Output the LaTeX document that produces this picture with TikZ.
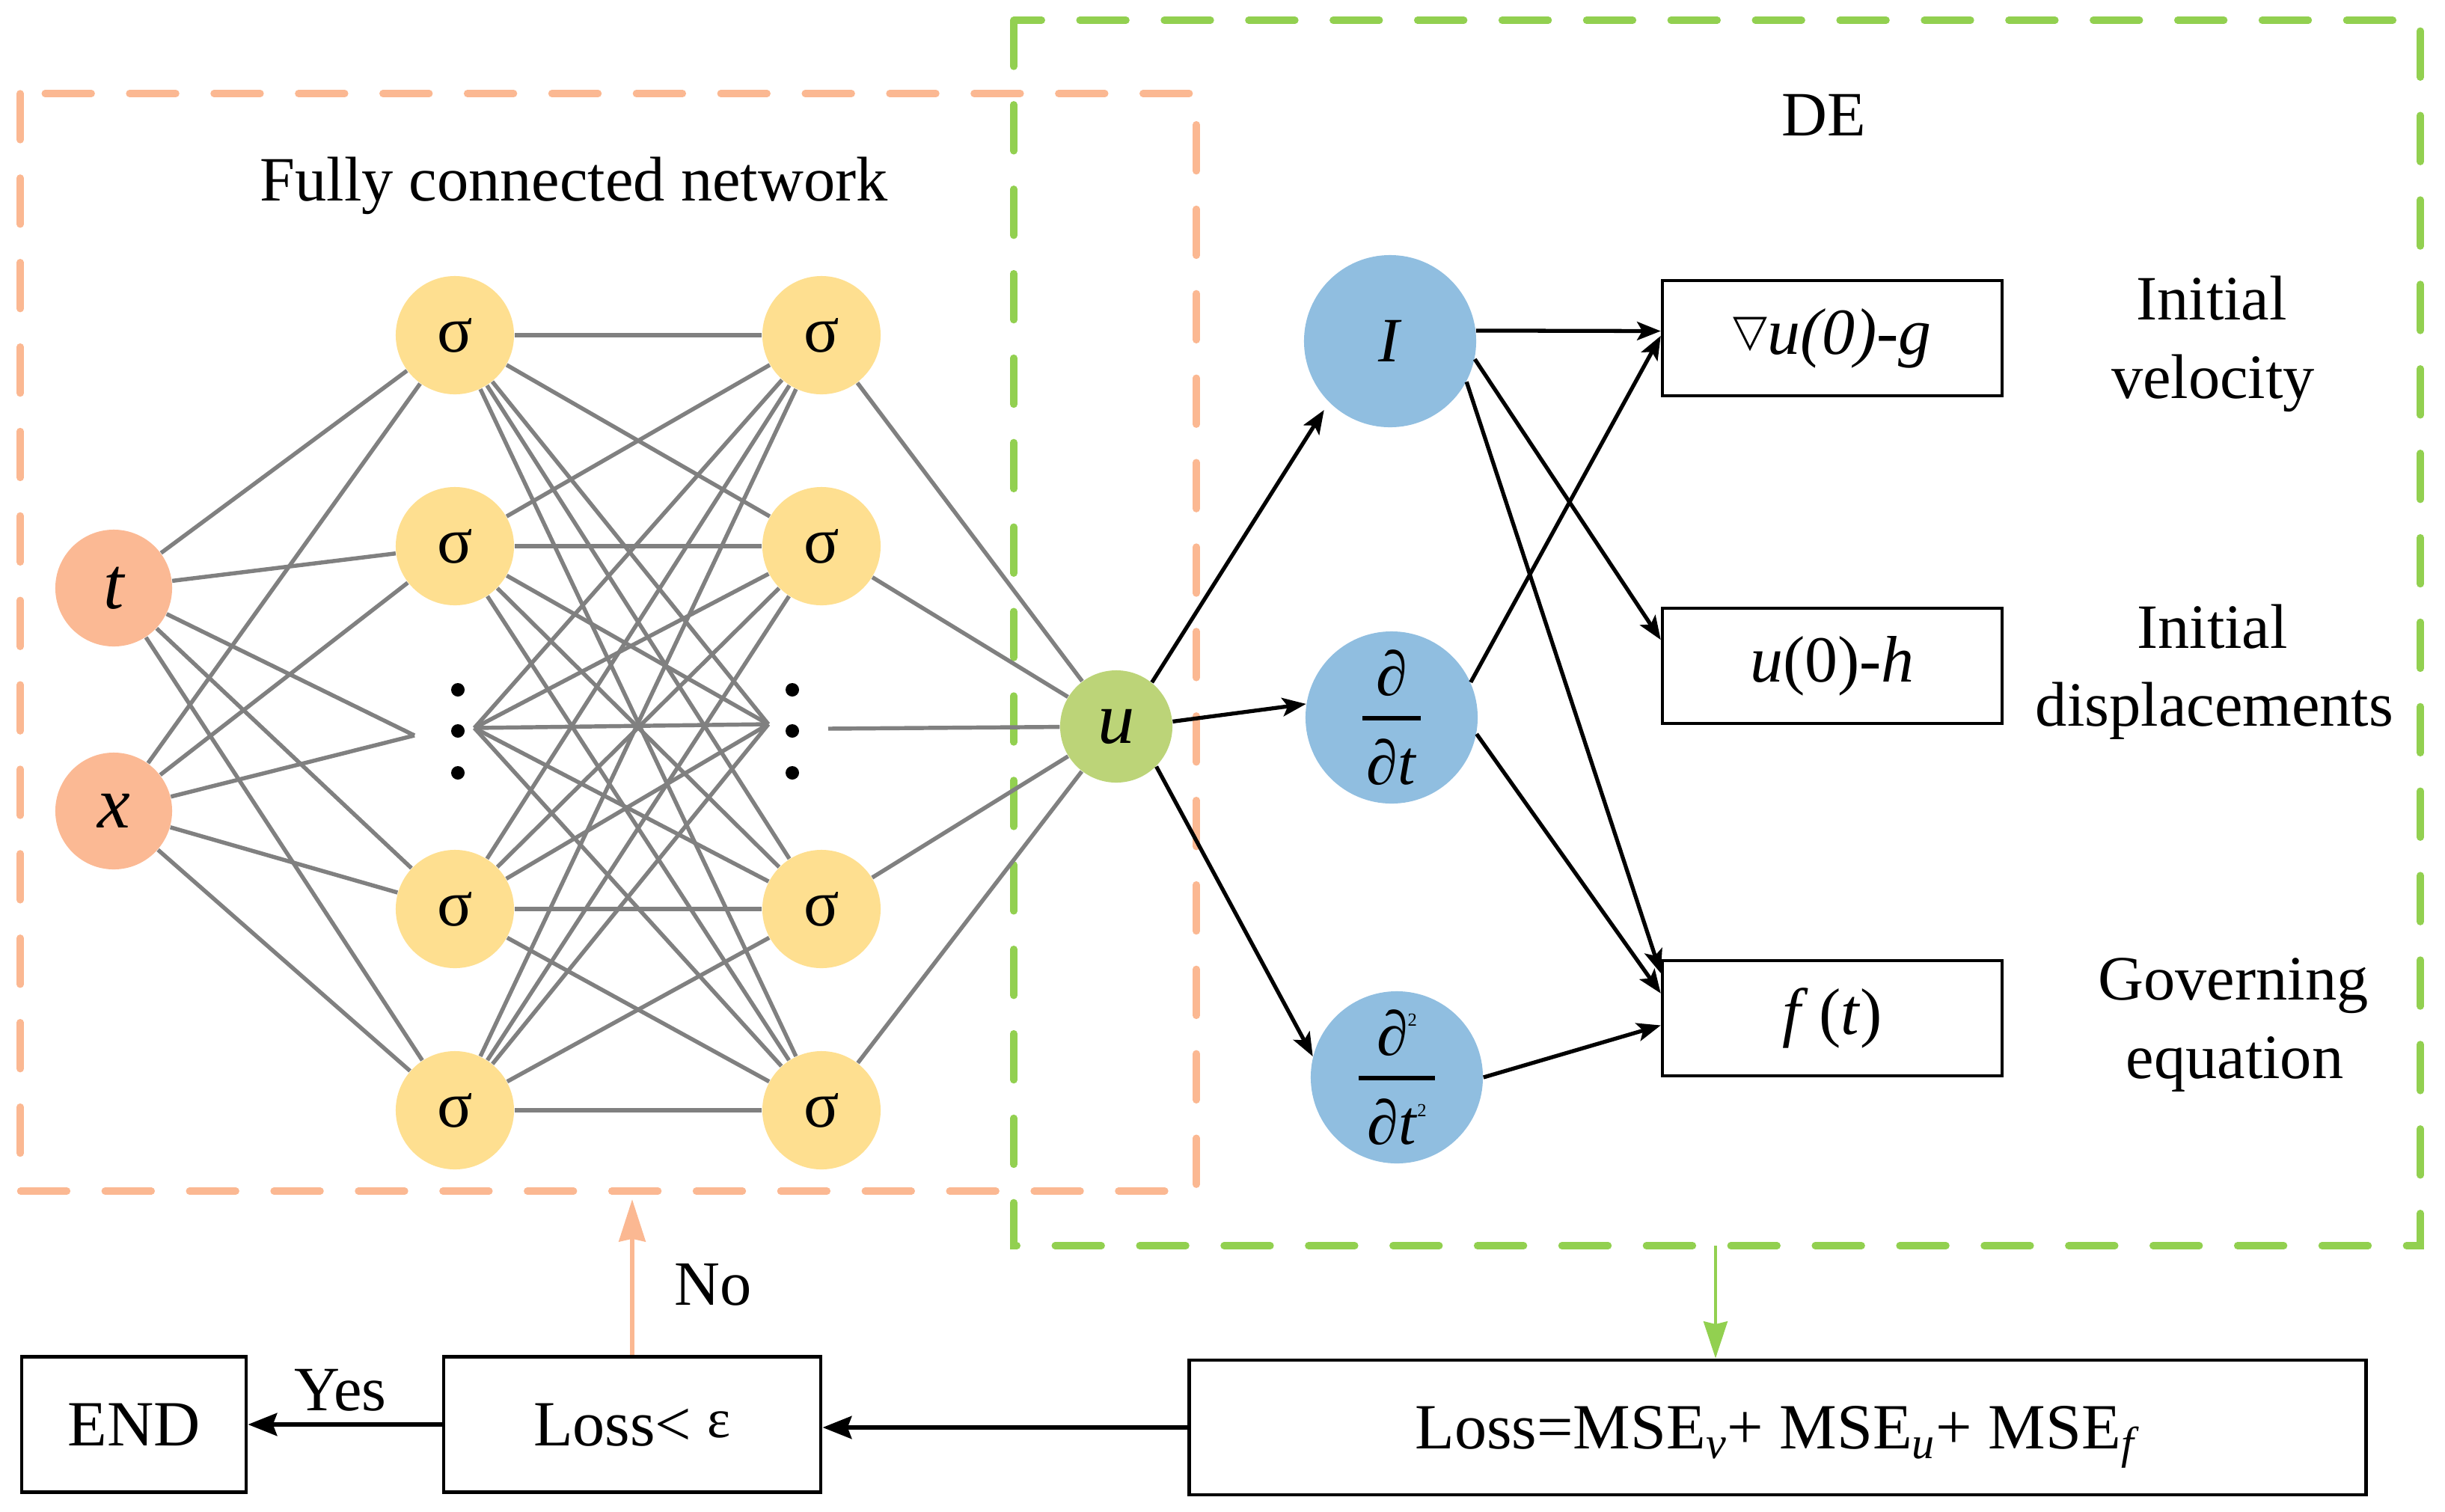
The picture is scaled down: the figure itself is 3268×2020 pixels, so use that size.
\documentclass[tikz,border=0pt]{standalone}
\usepackage{fontspec}
\setmainfont{Liberation Serif}
\newfontfamily\djv{DejaVu Sans}
\usetikzlibrary{arrows.meta,calc}
\definecolor{orn}{HTML}{FBB994}
\definecolor{ornd}{HTML}{FBB892}
\definecolor{yel}{HTML}{FEDF90}
\definecolor{grn}{HTML}{BCD478}
\definecolor{blu}{HTML}{90BEE0}
\definecolor{grd}{HTML}{92D050}
\definecolor{wgray}{RGB}{128,128,128}
\newcommand{\pfrac}[3]{\vbox{\hbox to #1{\hss#2\hss}\kern7.5pt\hrule height 1.6pt\kern7pt\hbox to #1{\hss#3\hss}}}
\newcommand{\sups}[1]{\raisebox{#1}{\fontsize{7}{7}\selectfont 2}}
\begin{document}
\begin{tikzpicture}[x=0.01cm,y=-0.01cm,
  neur/.style={circle,inner sep=0pt,minimum size=1.56cm},
  inp/.style={neur,fill=orn,font=\fontsize{28}{28}\selectfont\itshape},
  hid/.style={neur,fill=yel,minimum size=1.58cm,font=\fontsize{25}{25}\selectfont},
  outn/.style={neur,fill=grn,minimum size=1.5cm,font=\fontsize{28}{28}\selectfont\itshape},
  opn/.style={circle,fill=blu,inner sep=0pt,minimum size=2.3cm,font=\fontsize{24}{24}\selectfont},
  dotn/.style={circle,fill=black,inner sep=0pt,minimum size=0.18cm},
  wire/.style={draw=wgray,line width=1.55pt},
  arr/.style={draw=black,line width=1.5pt,-{Stealth[length=9pt,width=7pt,inset=2pt]}},
  barr/.style={draw=black,line width=1.9pt,-{Stealth[length=11pt,width=8.5pt,inset=1.5pt]}},
  oarr/.style={draw=ornd,line width=1.8pt,-{Stealth[length=16pt,width=10pt,inset=1pt]}},
  garr/.style={draw=grd,line width=1.4pt,-{Stealth[length=14pt,width=9pt,inset=1pt]}},
  tbox/.style={draw,line width=1.2pt,minimum width=4.54cm,minimum height=1.54cm,inner sep=0pt,font=\fontsize{25}{25}\selectfont},
  bbox/.style={draw,line width=1.3pt,minimum height=1.81cm,inner sep=0pt,font=\fontsize{24.5}{29}\selectfont,text depth=0pt},
  lbl/.style={inner sep=0pt,anchor=base,font=\fontsize{24}{29}\selectfont},
  odash/.style={draw=ornd,line width=2.7pt,line cap=round,dash pattern=on 17.6pt off 14.5pt},
  gdash/.style={draw=grd,line width=2.7pt,line cap=round,dash pattern=on 17.6pt off 14.5pt},
]
\useasboundingbox (0,0) rectangle (3268,2020);
% dashed frames
\draw[odash] (27,125) rectangle (1599,1592);
\draw[gdash] (1355,27) rectangle (3235,1665);
% network nodes
\node[inp] (t) at (152,786) {t};
\node[inp] (x) at (152,1084) {x};
\foreach \n/\y in {1/448,2/730,3/1215,4/1484} {
  \node[hid] (a\n) at (608,\y) {σ};
  \node[hid] (b\n) at (1098,\y) {σ};
}
\foreach \k/\y in {1/922,2/977,3/1033} {
  \node[dotn] (p\k) at (612,\y) {};
  \node[dotn] (q\k) at (1059,\y) {};
}
\coordinate (c1in) at (554,983);
\coordinate (c1out) at (634,973);
\coordinate (c2in) at (1027,968);
\coordinate (c2out) at (1107,974);
\node[outn] (u) at (1492,971) {u};
% wires
\foreach \s in {t,x} {\foreach \d in {a1,a2,a3,a4,c1in} {\draw[wire] (\s) -- (\d);}}
\foreach \s in {a1,a2,a3,a4,c1out} {\foreach \d in {b1,b2,b3,b4,c2in} {\draw[wire] (\s) -- (\d);}}
\foreach \s in {b1,b2,b3,b4,c2out} {\draw[wire] (\s) -- (u);}
% operator nodes
\node[opn] (I) at (1858,456) {\textit{I}};
\node[opn] (d1) at (1860,959) {\pfrac{0.78cm}{∂}{∂\textit{t}}};
\node[opn] (d2) at (1867,1440) {\pfrac{1.01cm}{∂\sups{11pt}}{∂\textit{t}\sups{10.5pt}}};
% condition boxes
\node[tbox] (vb) at (2449,452) {\raisebox{3pt}{\djv\fontsize{17}{17}\selectfont ▽}\textit{u(0)}-\textit{g}};
\node[tbox] (hb) at (2449,890) {\textit{u}(0)-\textit{h}};
\node[tbox] (fb) at (2449,1361) {\textit{f}\,(\textit{t})};
% arrows
\draw[arr,shorten >=0.12cm] (u.51) -- (I.225);
\draw[arr] (u.5) -- (d1.171);
\draw[arr] (u.-45) -- (d2.166);
\draw[arr] (I.7) -- ($(vb.north west)!0.44!(vb.south west)$);
\draw[arr] (I.-12) -- ($(hb.north west)!0.28!(hb.south west)$);
\draw[arr] (I.-28) -- ($(fb.north west)!0.12!(fb.south west)$);
\draw[arr] (d1.24) -- ($(vb.north west)!0.48!(vb.south west)$);
\draw[arr] (d1.-11) -- ($(fb.north west)!0.29!(fb.south west)$);
\draw[arr] (d2.0) -- ($(fb.north west)!0.56!(fb.south west)$);
% labels
\node[lbl] (fcn) at (767,268) {Fully connected network};
\node[lbl] (de) at (2438,181) {DE};
\node[lbl] (iv1) at (2956,427) {Initial};
\node[lbl] (iv2) at (2958,532) {velocity};
\node[lbl] (id1) at (2957,866) {Initial};
\node[lbl] (id2) at (2960,970) {displacements};
\node[lbl] (ge1) at (2985,1336) {Governing};
\node[lbl] (ge2) at (2987,1441) {equation};
% bottom flow
\node[bbox,minimum width=3.0cm] (endb) at (179,1904) {END};
\node[bbox,minimum width=5.04cm] (lossc) at (845,1904) {Loss< \raisebox{3pt}{\fontsize{21}{21}\selectfont ε}};
\node[bbox,minimum width=15.72cm,minimum height=1.80cm] (lossa) at (2376,1908) {Loss=MSE\textsubscript{\textit{v}}+ MSE\textsubscript{\textit{u}}+ MSE\textsubscript{\textit{f}}};
\draw[barr] (lossa.west) -- (lossa.west -| lossc.east);
\draw[barr] (lossc.west) -- (endb.east);
\node[lbl] (yes) at (455,1885) {Yes};
\coordinate (notip) at (845,1603);
\draw[oarr] (lossc.north) -- (notip);
\node[lbl] (no) at (953,1744) {No};
\coordinate (gsrc) at (2293,1665);
\draw[garr] (gsrc) -- (gsrc |- lossa.north);
\end{tikzpicture}
\end{document}
